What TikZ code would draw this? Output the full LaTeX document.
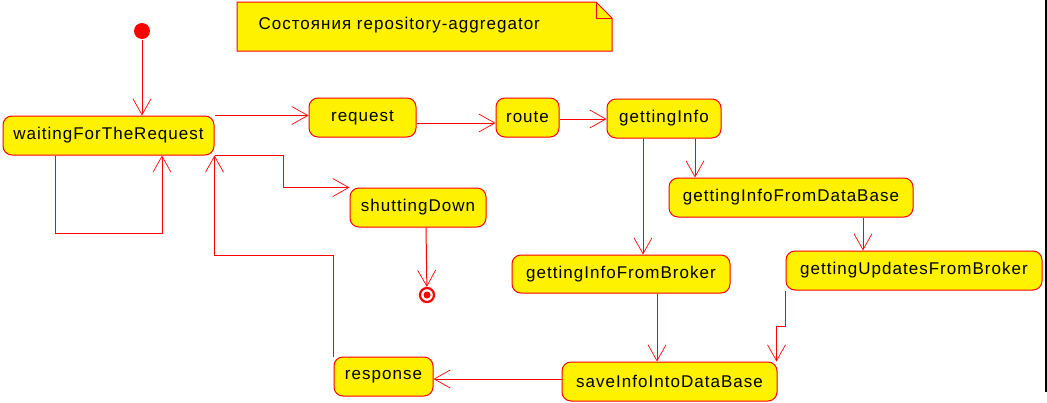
\documentclass[tikz,border=0pt]{standalone}
\usepackage{fontspec}
\setmainfont{Liberation Sans}
\usetikzlibrary{arrows.meta}

\begin{document}
\begin{tikzpicture}[x=1pt, y=-1pt, line width=1pt,
  >={Straight Barb[length=16pt, width=18pt, line width=0.7pt]},
  lbl/.style={font=\fontsize{17}{20}\selectfont\addfontfeature{LetterSpace=6}},
  state/.style={lbl, draw=red, fill=yellow, text=black, rounded corners=9pt,
    minimum height=39pt, inner sep=0pt},
  initstate/.style={circle, fill=red, minimum size=16pt, inner sep=0pt},
  finalstate/.style={circle, draw=red, line width=2.2pt, minimum size=14pt, inner sep=0pt},
  link/.style={red, ->}]
  \useasboundingbox (0,0) rectangle (1047,402);

  % note
  \draw[red, fill=yellow] (237,2) -- (596,2) -- (612,18) -- (612,51) -- (237,51) -- cycle;
  \draw[red] (596,2) -- (596,18) -- (612,18);
  \node[lbl, anchor=west, inner sep=0pt] (title) at (258,25) {Состояния repository-aggregator};

  \node[initstate] (init) at (142,31) {};
  \node[finalstate] (final) at (427,295) {};
  \fill[red] (final) circle (3.5pt);

  \node[state, minimum width=211pt] (waiting) at (108.5,135.5) {waitingForTheRequest};
  \node[state, minimum width=107pt] (request) at (362.5,117.5) {request};
  \node[state, minimum width=63pt] (route) at (527.5,117.5) {route};
  \node[state, minimum width=114pt] (info) at (664,118.5) {gettingInfo};
  \node[state, minimum width=136pt] (shutting) at (418,207.5) {shuttingDown};
  \node[state, minimum width=244pt] (infodb) at (791,197.5) {gettingInfoFromDataBase};
  \node[state, minimum width=256pt] (updates) at (914,270.5) {gettingUpdatesFromBroker};
  \node[state, minimum width=218pt, minimum height=38pt] (infobroker) at (621,274) {gettingInfoFromBroker};
  \node[state, minimum width=215pt] (save) at (669.5,381.5) {saveInfoIntoDataBase};
  \node[state, minimum width=99pt] (response) at (383.5,376.5) {response};

  \draw[link] (init) -- (init |- waiting.north);
  \draw[link] (waiting.north east) -- (request.west |- waiting.north east);
  \draw[link] ([xshift=-53.5pt]waiting.south) -- ++(0,78) -| ([xshift=53.5pt]waiting.south);
  \draw[link] (waiting.south east) -- ++(69,0) |- (shutting.north west);
  \draw[link] ([xshift=8pt]shutting.south) -- (final);
  \draw[link] ([yshift=-5.5pt]request.east) -- ([yshift=-5.5pt]request.east -| route.west);
  \draw[link] ([yshift=-1.5pt]route.east) -- ([yshift=-1.5pt]route.east -| info.west);
  \draw[link] ([xshift=-21pt]info.south) -- ([xshift=-21pt]info.south |- infobroker.north);
  \draw[link] ([xshift=31pt]info.south) -- ([xshift=31pt]info.south |- infodb.north);
  \draw[link] ([xshift=72pt]infodb.south) -- ([xshift=72pt]infodb.south |- updates.north);
  \draw[link] ([xshift=36pt]infobroker.south) -- ([xshift=36pt]infobroker.south |- save.north);
  \draw[link] (updates.south west) -- ++(0,36) -| ([xshift=-1pt]save.north east);
  \draw[link] ([yshift=2.5pt]save.west) -- ([yshift=2.5pt]save.west -| response.east);
  \draw[link] (response.north west) -- ++(0,-101) -| (waiting.south east);

  \draw[line width=2pt] (1045.5,0) -- (1045.5,392);
\end{tikzpicture}
\end{document}
